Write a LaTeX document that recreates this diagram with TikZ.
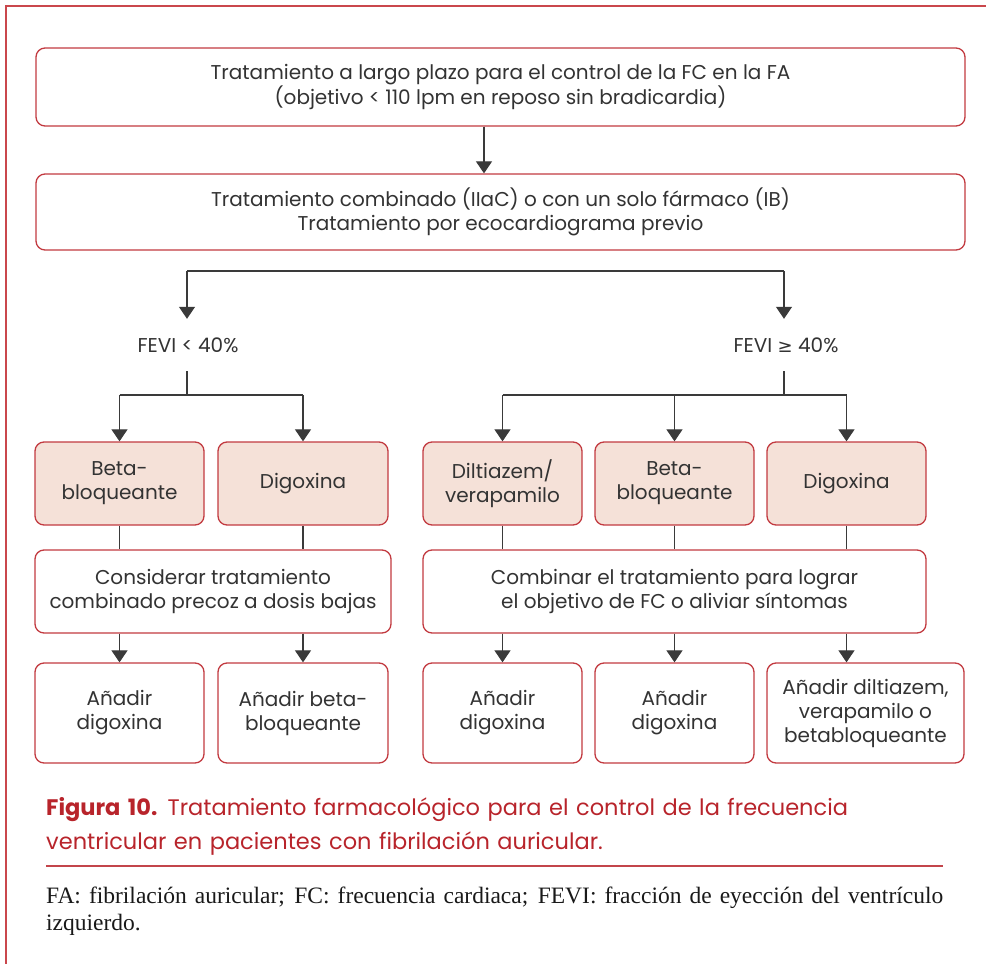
\documentclass[tikz,border=0pt]{standalone}
\usepackage{fontspec}
\setmainfont{Poppins}
\newfontfamily\djv{DejaVu Sans}
\newfontfamily\serifnote{Liberation Serif}
\usetikzlibrary{arrows.meta,positioning}
\definecolor{framered}{HTML}{C1272D}
\definecolor{boxred}{HTML}{C23A40}
\definecolor{boxfill}{HTML}{F5E1D8}
\definecolor{captred}{HTML}{B8242B}
\definecolor{txt}{HTML}{333333}
\definecolor{lin}{HTML}{3A3A3A}
\tikzset{
  base/.style={draw=boxred, line width=1.3pt, rounded corners=9pt, align=center, text=txt,
    font=\fontsize{20}{24}\selectfont, inner sep=0pt},
  wbox/.style={base, fill=white},
  fbox/.style={base, fill=boxfill},
  lbl/.style={text=txt, font=\fontsize{20}{24}\selectfont, inner sep=0pt, minimum height=52pt},
  conn/.style={draw=lin, line width=1.2pt},
  arr/.style={conn, -{Triangle[width=16pt,length=12pt]}, draw=lin, fill=black!85},
}
\begin{document}
\begin{tikzpicture}[x=1pt,y=-1pt]
\useasboundingbox (0,0) rectangle (986,964);
% frame
\draw[framered!85, line width=1.6pt] (986,6) -- (6,6) -- (6,964);
% top boxes
\node[wbox, minimum width=929pt, minimum height=78pt] (t1) at (500.5,87)
  {Tratamiento a largo plazo para el control de la FC en la FA\\(objetivo < 110 lpm en reposo sin bradicardia)};
\node[wbox, minimum width=929pt, minimum height=76pt] (t2) at (500.5,212)
  {Tratamiento combinado (IIaC) o con un solo fármaco (IB)\\Tratamiento por ecocardiograma previo};
\draw[arr] (t1.south -| 484,0) -- (t2.north -| 484,0);
% FEVI labels
\node[lbl] (fl) at (188,345) {FEVI < 40\%};
\node[lbl] (fr) at (786,345) {FEVI {\djv\fontsize{18}{24}\selectfont ≥} 40\%};
\coordinate (sl) at (187,271);
\coordinate (sr) at (784,271);
\draw[conn] (sl) -- (sr);
\draw[arr] (sl) -- (sl |- fl.north);
\draw[arr] (sr) -- (sr |- fr.north);
% row 1
\node[fbox, minimum width=169pt, minimum height=83pt] (b1) at (119.5,483.5) {Beta-\\bloqueante};
\node[fbox, minimum width=170pt, minimum height=83pt] (b2) at (303,483.5) {Digoxina};
\node[fbox, minimum width=159pt, minimum height=83pt] (b3) at (502.5,483.5) {Diltiazem/\\verapamilo};
\node[fbox, minimum width=159pt, minimum height=83pt] (b4) at (674.5,483.5) {Beta-\\bloqueante};
\node[fbox, minimum width=159pt, minimum height=83pt] (b5) at (846.5,483.5) {Digoxina};
% left branch
\coordinate (jl) at (187,395);
\draw[conn] (sl |- fl.south) -- (jl);
\draw[conn] (b1.north |- jl) -- (b2.north |- jl);
\draw[arr] (b1.north |- jl) -- (b1.north);
\draw[arr] (b2.north |- jl) -- (b2.north);
% right branch
\coordinate (jr) at (784,395);
\draw[conn] (sr |- fr.south) -- (jr);
\draw[conn] (b3.north |- jr) -- (b5.north |- jr);
\draw[arr] (b3.north |- jr) -- (b3.north);
\draw[arr] (b4.north |- jr) -- (b4.north);
\draw[arr] (b5.north |- jr) -- (b5.north);
% combined boxes
\node[wbox, minimum width=356pt, minimum height=83pt] (cl) at (213,591.5)
  {Considerar tratamiento\\combinado precoz a dosis bajas};
\node[wbox, minimum width=503pt, minimum height=83pt] (cr) at (674.5,591.5)
  {Combinar el tratamiento para lograr\\el objetivo de FC o aliviar síntomas};
\foreach \b/\c in {b1/cl,b2/cl,b3/cr,b4/cr,b5/cr}{
  \draw[conn] (\b.south) -- (\b.south |- \c.north);
}
% row 3
\node[wbox, minimum width=169pt, minimum height=100pt] (r1) at (119.5,713) {Añadir\\digoxina};
\node[wbox, minimum width=170pt, minimum height=100pt] (r2) at (303,713) {Añadir beta-\\bloqueante};
\node[wbox, minimum width=159pt, minimum height=100pt] (r3) at (502.5,713) {Añadir\\digoxina};
\node[wbox, minimum width=159pt, minimum height=100pt] (r4) at (674.5,713) {Añadir\\digoxina};
\node[wbox, minimum width=197pt, minimum height=100pt] (r5) at (865.5,713) {Añadir diltiazem,\\verapamilo o\\betabloqueante};
\foreach \b/\c/\r in {b1/cl/r1,b2/cl/r2,b3/cr/r3,b4/cr/r4,b5/cr/r5}{
  \draw[arr] (\b.south |- \c.south) -- (\b.south |- \r.north);
}
% caption
\node[anchor=north west, inner sep=0pt, text width=897pt, align=left, text=captred,
  font=\fontsize{22.5}{34}\selectfont] (cap) at (46,797)
  {{\bfseries Figura 10.}\hspace{0.45em}Tratamiento farmacológico para el control de la frecuencia\\ventricular en pacientes con fibrilación auricular.};
\coordinate (rl) at (46,866);
\coordinate (rr) at (943,866);
\draw[captred!85, line width=1.6pt] (rl) -- (rr);
\node[anchor=north west, inner sep=0pt, text width=897pt, align=left, text=black!90,
  font=\serifnote\fontsize{23.5}{27}\selectfont] (note) at (46,887)
  {\spaceskip=0.22em plus 1em minus 0.12em
   \hbox to 897pt{FA: fibrilación auricular; FC: frecuencia cardiaca; FEVI: fracción de eyección del ventrículo}\\izquierdo.};
\end{tikzpicture}
\end{document}
